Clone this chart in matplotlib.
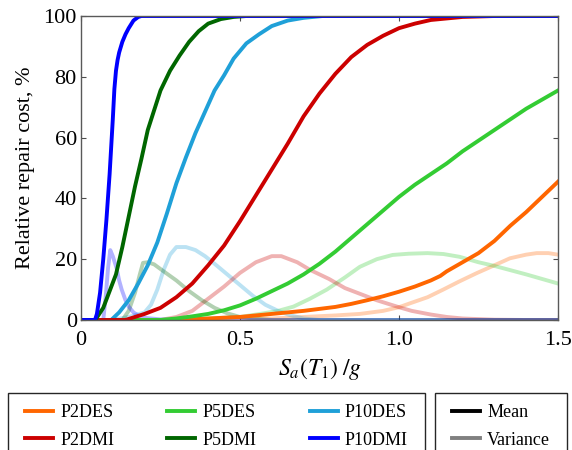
import matplotlib
matplotlib.use("Agg")
import matplotlib.pyplot as plt
from matplotlib.lines import Line2D
from matplotlib.patches import Rectangle

plt.rcParams['font.family'] = ['Liberation Serif', 'DejaVu Serif']
plt.rcParams['mathtext.fontset'] = 'stix'

# mean curves (Sa/g, relative repair cost in %)
x_p10dmi = [0, 0.044, 0.05, 0.06, 0.07, 0.08, 0.09, 0.10, 0.105, 0.11, 0.115, 0.12, 0.13, 0.14, 0.15, 0.165, 0.18, 0.19, 1.5]
y_p10dmi = [0, 0, 2, 9, 20, 33, 48, 66, 76, 82, 85.5, 88, 91.5, 94, 96, 98.5, 99.7, 100, 100]

x_p5dmi = [0, 0.045, 0.07, 0.09, 0.11, 0.13, 0.15, 0.17, 0.19, 0.21, 0.23, 0.25, 0.28, 0.31, 0.34, 0.37, 0.40, 0.44, 0.48, 0.52, 1.5]
y_p5dmi = [0, 0, 4, 9.5, 15, 24, 34, 44, 53, 62.5, 69, 75.5, 82, 87, 91.5, 95, 97.5, 99, 99.7, 100, 100]

x_p10des = [0, 0.095, 0.12, 0.15, 0.18, 0.21, 0.24, 0.27, 0.30, 0.33, 0.36, 0.39, 0.42, 0.45, 0.48, 0.52, 0.56, 0.60, 0.65, 0.70, 0.76, 1.5]
y_p10des = [0, 0, 2.5, 6.5, 12, 18, 25.5, 35, 45, 53.5, 61.5, 68.5, 75.5, 80.5, 86, 91, 94, 96.7, 98.5, 99.4, 100, 100]

x_p2dmi = [0, 0.14, 0.2, 0.25, 0.3, 0.35, 0.4, 0.45, 0.5, 0.55, 0.6, 0.65, 0.7, 0.75, 0.8, 0.85, 0.9, 0.95, 1.0, 1.05, 1.1, 1.2, 1.3, 1.5]
y_p2dmi = [0, 0, 2, 4, 7.5, 12, 18, 24.5, 32.5, 41, 49.5, 58, 67, 74.5, 81, 86.5, 90.5, 93.5, 96, 97.5, 98.7, 99.7, 100, 100]

x_p5des = [0, 0.25, 0.3, 0.35, 0.4, 0.45, 0.5, 0.55, 0.6, 0.65, 0.7, 0.75, 0.8, 0.85, 0.9, 0.95, 1.0, 1.05, 1.1, 1.15, 1.2, 1.25, 1.3, 1.35, 1.4, 1.45, 1.5]
y_p5des = [0, 0, 0.5, 1.2, 2, 3.2, 4.8, 7, 9.5, 12, 15, 18.5, 22.5, 27, 31.5, 36, 40.5, 44.5, 48, 51.5, 55.5, 59, 62.5, 66, 69.5, 72.5, 75.5]

x_p2des = [0, 0.3, 0.4, 0.5, 0.6, 0.7, 0.8, 0.85, 0.9, 0.95, 1.0, 1.05, 1.1, 1.13, 1.15, 1.2, 1.25, 1.3, 1.35, 1.4, 1.45, 1.5]
y_p2des = [0, 0, 0.5, 1, 2, 3, 4.3, 5.3, 6.5, 7.8, 9.3, 11, 13, 14.5, 16, 19, 22, 26, 31, 35.5, 40.5, 45.5]

# variance curves
xv_p10dmi = [0, 0.07, 0.078, 0.085, 0.092, 0.1, 0.112, 0.12, 0.128, 0.14, 0.15, 0.165, 0.18, 0.2, 0.25, 0.3, 1.5]
yv_p10dmi = [0, 0, 8, 17, 23, 21, 17, 13, 10, 6.5, 4.4, 2.5, 1.5, 0.7, 0.2, 0, 0]

xv_p5dmi = [0, 0.13, 0.15, 0.17, 0.185, 0.195, 0.21, 0.23, 0.26, 0.3, 0.34, 0.38, 0.42, 0.46, 0.5, 0.55, 0.6, 1.5]
yv_p5dmi = [0, 0, 3, 9, 15, 18.8, 19, 18.3, 16, 13, 9.5, 6.5, 4, 2.2, 1, 0.4, 0, 0]

xv_p10des = [0, 0.095, 0.15, 0.2, 0.22, 0.24, 0.26, 0.28, 0.3, 0.33, 0.36, 0.39, 0.42, 0.46, 0.5, 0.54, 0.58, 0.62, 0.66, 0.7, 0.75, 1.5]
yv_p10des = [0, 0, 1, 2.5, 5, 10, 16.5, 21.5, 24, 24, 23, 21, 18.5, 15, 11.5, 8, 5, 3, 1.5, 0.5, 0, 0]

xv_p2dmi = [0, 0.25, 0.3, 0.35, 0.4, 0.45, 0.5, 0.55, 0.6, 0.63, 0.68, 0.72, 0.78, 0.83, 0.88, 0.93, 1.0, 1.04, 1.1, 1.15, 1.2, 1.3, 1.4, 1.5]
yv_p2dmi = [0, 0, 1, 3, 7, 11, 15.5, 19, 21, 21, 19, 16.5, 13.5, 10.5, 8.5, 6.5, 4.2, 3, 1.8, 1, 0.5, 0.1, 0, 0]

xv_p5des = [0, 0.3, 0.4, 0.5, 0.563, 0.62, 0.668, 0.72, 0.773, 0.83, 0.877, 0.93, 0.98, 1.03, 1.09, 1.14, 1.19, 1.25, 1.3, 1.35, 1.4, 1.45, 1.5]
yv_p5des = [0, 0, 0.5, 1, 2, 3, 4.4, 7, 10, 14, 17.5, 20, 21.4, 21.8, 22, 21.7, 20.8, 19, 17.8, 16.4, 15, 13.5, 12]

xv_p2des = [0, 0.4, 0.6, 0.8, 0.877, 0.95, 1.0, 1.035, 1.09, 1.139, 1.19, 1.244, 1.3, 1.349, 1.4, 1.433, 1.47, 1.5]
yv_p2des = [0, 0, 0.5, 1.5, 2, 3, 4.2, 5.5, 7.5, 10, 12.7, 15.4, 18, 20.3, 21.5, 22, 22, 21.5]

names = ["P2DES", "P5DES", "P10DES", "P2DMI", "P5DMI", "P10DMI"]
colors = {"P2DES": "#ff6600", "P5DES": "#33cc33", "P10DES": "#1fa0d8",
          "P2DMI": "#cc0000", "P5DMI": "#006600", "P10DMI": "#0000ff"}
means = {"P2DES": (x_p2des, y_p2des), "P5DES": (x_p5des, y_p5des),
         "P10DES": (x_p10des, y_p10des), "P2DMI": (x_p2dmi, y_p2dmi),
         "P5DMI": (x_p5dmi, y_p5dmi), "P10DMI": (x_p10dmi, y_p10dmi)}
variances = {"P2DES": (xv_p2des, yv_p2des), "P5DES": (xv_p5des, yv_p5des),
             "P10DES": (xv_p10des, yv_p10des), "P2DMI": (xv_p2dmi, yv_p2dmi),
             "P5DMI": (xv_p5dmi, yv_p5dmi), "P10DMI": (xv_p10dmi, yv_p10dmi)}

fig = plt.figure(figsize=(5.72, 4.5), dpi=100)
ax = fig.add_axes([0.1416, 0.2889, 0.8339, 0.6755])

for n in names:
    xv, yv = variances[n]
    ax.plot(xv, yv, color=colors[n], lw=2.8, alpha=0.3, solid_joinstyle="round")
for n in names:
    xm, ym = means[n]
    ax.plot(xm, ym, color=colors[n], lw=2.8, solid_joinstyle="round")

ax.set_xlim(0, 1.5)
ax.set_ylim(0, 100)
ax.set_xticks([0, 0.5, 1.0, 1.5])
ax.set_xticklabels(["0", "0.5", "1.0", "1.5"])
ax.set_yticks([0, 20, 40, 60, 80, 100])
ax.tick_params(direction="in", length=3.5, width=0.8, top=True, right=True,
               labelsize=16, color="0.3")
ax.tick_params(axis="x", pad=8)
ax.tick_params(axis="y", pad=3)
for s in ax.spines.values():
    s.set_color("0.35")
    s.set_linewidth(1.0)
ax.set_ylabel("Relative repair cost, %", fontsize=16, labelpad=6)
ax.set_xlabel(r"$S_a(T_1)\;/g$", fontsize=17, labelpad=4)

# legend frames, open at the bottom edge of the figure
fig.add_artist(Rectangle((0.014, -0.1), 0.729, 0.2267, transform=fig.transFigure,
                         fill=False, edgecolor="0.15", lw=1.0))
fig.add_artist(Rectangle((0.7605, -0.1), 0.2308, 0.2267, transform=fig.transFigure,
                         fill=False, edgecolor="0.15", lw=1.0))

labels = ["P2DES", "P2DMI", "P5DES", "P5DMI", "P10DES", "P10DMI"]
handles = [Line2D([], [], color=colors[n], lw=2.8) for n in labels]
fig.legend(handles, labels, ncol=3, loc="upper left",
           bbox_to_anchor=(0.0437, 0.1025), borderaxespad=0, borderpad=0,
           fontsize=13, frameon=False, handlelength=1.55, handletextpad=0.39,
           columnspacing=2.95, labelspacing=0.6)

style_handles = [Line2D([], [], color="black", lw=2.8),
                 Line2D([], [], color="0.5", lw=2.8)]
fig.legend(style_handles, ["Mean", "Variance"], loc="upper left",
           bbox_to_anchor=(0.7902, 0.1025), borderaxespad=0, borderpad=0,
           fontsize=13, frameon=False, handlelength=1.55, handletextpad=0.39,
           labelspacing=0.6)

fig.savefig("out.png", dpi=100)
